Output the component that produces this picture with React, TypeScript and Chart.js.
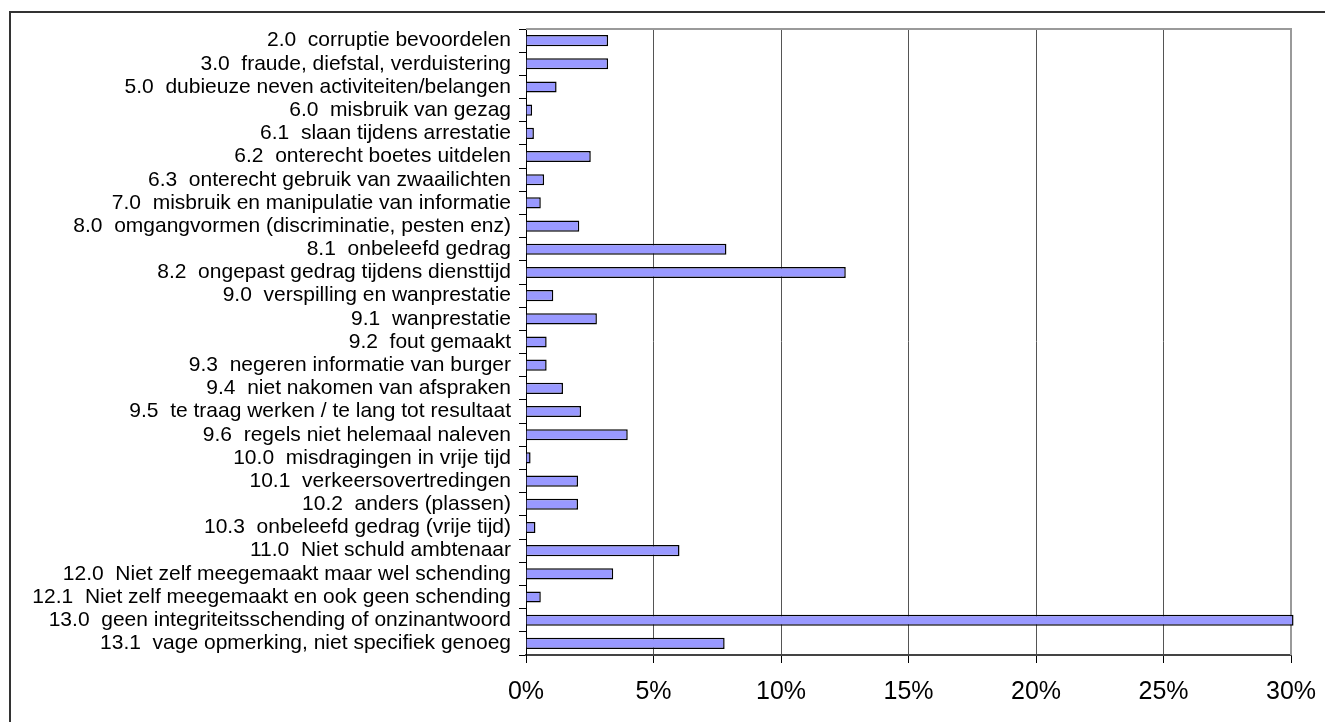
import React, { useEffect, useRef } from "react";
import { Chart, registerables } from "chart.js";

Chart.register(...registerables);

const categories: string[] = [
  "2.0  corruptie bevoordelen",
  "3.0  fraude, diefstal, verduistering",
  "5.0  dubieuze neven activiteiten/belangen",
  "6.0  misbruik van gezag",
  "6.1  slaan tijdens arrestatie",
  "6.2  onterecht boetes uitdelen",
  "6.3  onterecht gebruik van zwaailichten",
  "7.0  misbruik en manipulatie van informatie",
  "8.0  omgangvormen (discriminatie, pesten enz)",
  "8.1  onbeleefd gedrag",
  "8.2  ongepast gedrag tijdens diensttijd",
  "9.0  verspilling en wanprestatie",
  "9.1  wanprestatie",
  "9.2  fout gemaakt",
  "9.3  negeren informatie van burger",
  "9.4  niet nakomen van afspraken",
  "9.5  te traag werken / te lang tot resultaat",
  "9.6  regels niet helemaal naleven",
  "10.0  misdragingen in vrije tijd",
  "10.1  verkeersovertredingen",
  "10.2  anders (plassen)",
  "10.3  onbeleefd gedrag (vrije tijd)",
  "11.0  Niet schuld ambtenaar",
  "12.0  Niet zelf meegemaakt maar wel schending",
  "12.1  Niet zelf meegemaakt en ook geen schending",
  "13.0  geen integriteitsschending of onzinantwoord",
  "13.1  vage opmerking, niet specifiek genoeg",
];

const percentages: number[] = [
  3.22, 3.22, 1.2, 0.24, 0.31, 2.54, 0.71, 0.58, 2.09, 7.86, 12.54, 1.07,
  2.78, 0.81, 0.81, 1.45, 2.16, 3.99, 0.18, 2.04, 2.04, 0.37, 6.02, 3.42,
  0.58, 30.1, 7.79,
];

const xTickMin = 0;
const xTickMax = 30;
const xTickStep = 5;

const plotFramePlugin = {
  id: "plotFrame",
  beforeDatasetsDraw(chart: any) {
    const { ctx, chartArea } = chart;
    ctx.save();
    ctx.strokeStyle = "#9a9a9a";
    ctx.lineWidth = 2;
    ctx.beginPath();
    ctx.moveTo(chartArea.left, chartArea.top);
    ctx.lineTo(chartArea.right, chartArea.top);
    ctx.lineTo(chartArea.right, chartArea.bottom);
    ctx.stroke();
    ctx.restore();
  },
};

export default function App() {
  const canvasRef = useRef<HTMLCanvasElement | null>(null);

  useEffect(() => {
    if (!canvasRef.current) return;
    const chart = new Chart(canvasRef.current, {
      type: "bar",
      data: {
        labels: categories,
        datasets: [
          {
            data: percentages,
            backgroundColor: "#9999ff",
            borderColor: "#000000",
            borderWidth: 1.5,
            barPercentage: 0.48,
            categoryPercentage: 1,
            clip: false,
          },
        ],
      },
      plugins: [plotFramePlugin],
      options: {
        indexAxis: "y",
        responsive: false,
        animation: false,
        layout: { padding: { top: 29, right: 34, bottom: 0, left: 0 } },
        plugins: {
          legend: { display: false },
          tooltip: { enabled: false },
          title: { display: false },
        },
        scales: {
          x: {
            type: "linear",
            position: "bottom",
            min: xTickMin,
            max: xTickMax,
            afterFit: (scale: any) => {
              scale.height = 67;
              scale.paddingLeft = 0;
              scale.paddingRight = 0;
            },
            ticks: {
              stepSize: xTickStep,
              padding: 14,
              color: "#000",
              font: { family: "'Liberation Sans', Arial, sans-serif", size: 25 },
              callback: (v: any) => `${v}%`,
            },
            grid: {
              color: "#555555",
              lineWidth: 1,
              drawTicks: true,
              tickLength: 8,
              tickColor: "#000",
            },
            border: { color: "#444444", width: 2 },
          },
          y: {
            type: "category",
            afterFit: (scale: any) => {
              scale.width = 526;
            },
            ticks: {
              autoSkip: false,
              padding: 8,
              color: "#000",
              font: {
                family: "'Liberation Sans', Arial, sans-serif",
                size: 21,
                lineHeight: 1,
              },
            },
            grid: {
              offset: true,
              drawOnChartArea: false,
              drawTicks: true,
              tickLength: 7,
              tickColor: "#000",
            },
            border: { color: "#000", width: 1 },
          },
        },
      },
    });
    return () => chart.destroy();
  }, []);

  return (
    <div
      style={{
        position: "fixed",
        left: 0,
        top: 0,
        width: 1325,
        height: 722,
        overflow: "hidden",
        background: "#fff",
      }}
    >
      <div
        style={{
          position: "absolute",
          left: 9,
          top: 11,
          width: 1400,
          height: 800,
          border: "2px solid #333",
          boxSizing: "border-box",
        }}
      />
      <canvas
        ref={canvasRef}
        width={1325}
        height={722}
        style={{ position: "absolute", left: 0, top: 0 }}
      />
    </div>
  );
}
